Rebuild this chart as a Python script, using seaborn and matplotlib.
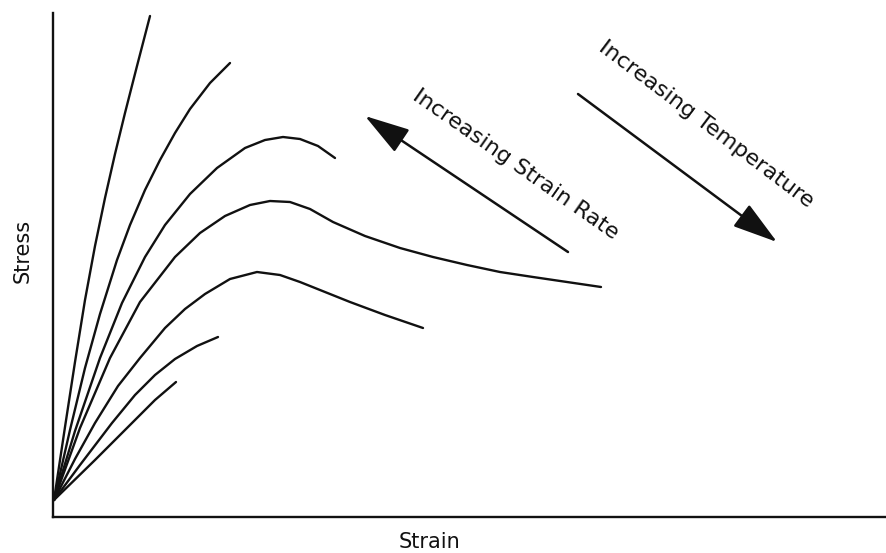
import matplotlib
matplotlib.use("Agg")
import matplotlib.pyplot as plt
import seaborn as sns
import pandas as pd

# Schematic stress-strain curves (arbitrary units)
curve1_strain = [1, 12, 22, 32, 42, 52, 62, 72, 84, 97]
curve1_stress = [17, 90, 155, 217, 271, 319, 363, 404, 451, 501]

curve2_strain = [1, 17, 32, 47, 64, 77, 92, 107, 122, 137, 157, 177]
curve2_stress = [17, 87, 149, 203, 257, 292, 327, 357, 384, 408, 434, 454]

curve3_strain = [1, 22, 47, 69, 92, 112, 137, 164, 192, 212, 230, 247, 265, 282]
curve3_stress = [17, 86, 159, 214, 260, 292, 323, 349, 369, 377, 380, 378, 371, 359]

curve4_strain = [1, 27, 57, 87, 122, 147, 172, 197, 217, 237, 257, 280, 312, 347,
                 380, 414, 447, 480, 514, 548]
curve4_stress = [17, 89, 159, 215, 260, 284, 301, 312, 316, 315, 308, 295, 281, 269,
                 260, 252, 245, 240, 235, 230]

curve5_strain = [1, 22, 42, 65, 87, 112, 132, 152, 177, 204, 227, 247, 297, 332, 370]
curve5_stress = [17, 58, 94, 131, 159, 189, 208, 223, 238, 245, 242, 235, 215, 202, 189]

curve6_strain = [1, 27, 59, 82, 102, 122, 144, 165]
curve6_stress = [17, 52, 94, 122, 142, 158, 171, 180]

curve7_strain = [1, 42, 75, 102, 123]
curve7_stress = [17, 57, 90, 117, 135]

curve_names = ["c1", "c2", "c3", "c4", "c5", "c6", "c7"]
all_strain = [curve1_strain, curve2_strain, curve3_strain, curve4_strain,
              curve5_strain, curve6_strain, curve7_strain]
all_stress = [curve1_stress, curve2_stress, curve3_stress, curve4_stress,
              curve5_stress, curve6_stress, curve7_stress]

rows = []
for name, xs, ys in zip(curve_names, all_strain, all_stress):
    for i, (x, y) in enumerate(zip(xs, ys)):
        rows.append({"curve": name, "order": i, "Strain": x, "Stress": y})
df = pd.DataFrame(rows)

x_label = "Strain"
y_label = "Stress"
rate_label = "Increasing Strain Rate"
temp_label = "Increasing Temperature"

sns.set_theme(style="white")
plt.rcParams["font.family"] = ["DejaVu Sans"]

fig = plt.figure(figsize=(8.87, 5.53), dpi=100)
ax = fig.add_axes([53 / 887, 36 / 553, 834 / 887, 504 / 553])

sns.lineplot(data=df, x="Strain", y="Stress", hue="curve", units="curve",
             estimator=None, sort=False, palette=["#111111"] * 7,
             linewidth=1.7, legend=False, ax=ax)
for line in ax.lines:
    line.set_solid_joinstyle("round")
    line.set_solid_capstyle("round")

ax.set_xlim(0, 834)
ax.set_ylim(0, 504)
ax.set_xticks([])
ax.set_yticks([])
for side in ["top", "right"]:
    ax.spines[side].set_visible(False)
for side in ["left", "bottom"]:
    ax.spines[side].set_color("#111111")
    ax.spines[side].set_linewidth(1.7)

ax.set_xlabel(x_label, fontsize=15, color="#111111")
ax.xaxis.set_label_coords(0.452, -0.03)
ax.set_ylabel(y_label, fontsize=15, color="#111111")
ax.yaxis.label.set_va("center")
ax.yaxis.set_label_coords(-0.036, 0.528)

arrow_style = "-|>,head_length=1.4,head_width=0.42"
ax.annotate("", xy=(312, 401), xytext=(515, 265),
            arrowprops=dict(arrowstyle=arrow_style, color="#111111", lw=1.8,
                            mutation_scale=20, shrinkA=0, shrinkB=0))
ax.annotate("", xy=(724, 275), xytext=(525, 423),
            arrowprops=dict(arrowstyle=arrow_style, color="#111111", lw=1.8,
                            mutation_scale=20, shrinkA=0, shrinkB=0))

ax.text(463, 353, rate_label, rotation=-35, rotation_mode="anchor",
        ha="center", va="center", fontsize=16, color="#111111")
ax.text(653, 393, temp_label, rotation=-37, rotation_mode="anchor",
        ha="center", va="center", fontsize=16, color="#111111")

fig.savefig("out.png", dpi=100, facecolor="white")
